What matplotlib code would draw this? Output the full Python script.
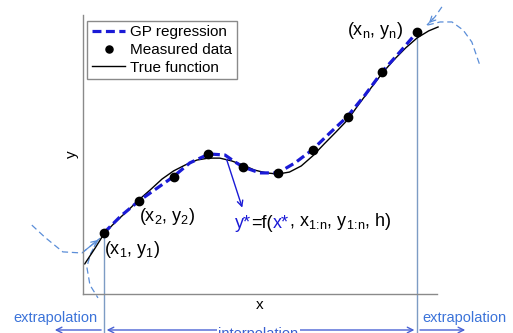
import numpy as np
import matplotlib.pyplot as plt

plt.rcParams['font.family'] = 'Liberation Sans'
plt.rcParams['mathtext.fontset'] = 'custom'
plt.rcParams['mathtext.rm'] = 'Liberation Sans'
plt.rcParams['mathtext.it'] = 'Liberation Sans'

# measured data (x_1 .. x_n)
x_meas = [1, 2, 3, 4, 5, 6, 7, 8, 9, 10]
y_meas = [2.19, 3.33, 4.19, 5.02, 4.55, 4.34, 5.16, 6.34, 7.96, 9.39]

# true function
x_true = [0.45, 0.75, 1.0, 1.33, 1.67, 2.0, 2.33, 2.67, 3.0, 3.33, 3.67, 4.0,
          4.33, 4.67, 5.0, 5.33, 5.67, 6.0, 6.33, 6.67, 7.0, 7.33, 7.67, 8.0,
          8.33, 8.67, 9.0, 9.33, 9.67, 10.0, 10.33, 10.6]
y_true = [1.08, 1.65, 2.15, 2.58, 2.97, 3.37, 3.73, 4.12, 4.41, 4.62, 4.80, 4.87,
          4.87, 4.77, 4.62, 4.44, 4.34, 4.30, 4.37, 4.59, 4.95, 5.38, 5.81, 6.24,
          6.81, 7.38, 7.92, 8.39, 8.82, 9.18, 9.43, 9.57]

# GP regression mean
x_gp = [1.0, 1.49, 2.0, 2.49, 2.98, 3.47, 4.02, 4.48, 4.77, 5.0, 5.48, 6.0,
        6.49, 6.98, 7.49, 7.98, 8.5, 8.99, 9.5, 10.0]
y_gp = [2.19, 2.80, 3.33, 3.76, 4.19, 4.70, 5.02, 4.98, 4.73, 4.55, 4.34, 4.34,
        4.70, 5.16, 5.77, 6.34, 7.13, 7.96, 8.67, 9.39]

# extrapolation guesses outside the data range
x_ext_a = [-1.07, -0.70, -0.18, 0.37, 0.89]
y_ext_a = [2.47, 2.04, 1.51, 1.47, 2.0]
x_ext_b = [0.83, 0.62, 0.51, 0.60, 0.83]
y_ext_b = [1.94, 1.45, 0.97, 0.32, -0.14]
x_ext_c = [10.71, 10.51, 10.28]
y_ext_c = [10.29, 9.93, 9.64]
x_ext_d = [10.3, 10.66, 11.0, 11.32, 11.57, 11.8]
y_ext_d = [9.64, 9.75, 9.75, 9.46, 9.03, 8.2]

GP_BLUE = '#1a1ad6'
LIGHT = '#5b8ed8'
GUIDE = '#7d9cc4'
ARROW = '#4a62d4'

fig = plt.figure(figsize=(5.13, 3.33), dpi=100)
ax = fig.add_axes([0.1618, 0.1171, 0.6901, 0.8379])
ax.set_xlim(0.4, 10.57)
ax.set_ylim(0, 10)
ax.set_xticks([])
ax.set_yticks([])
for s in ['top', 'right']:
    ax.spines[s].set_visible(False)
for s in ['left', 'bottom']:
    ax.spines[s].set_color('#8a8a8a')
    ax.spines[s].set_linewidth(1.0)
ax.set_xlabel('x', fontsize=11, labelpad=3)
ax.set_ylabel('y', fontsize=11, labelpad=3)

# guide lines at first / last sample
ymin_fig = -1.40
ax.plot([x_meas[0], x_meas[0]], [y_meas[0], ymin_fig], color=GUIDE, lw=1, clip_on=False)
ax.plot([x_meas[-1], x_meas[-1]], [y_meas[-1], ymin_fig], color=GUIDE, lw=1, clip_on=False)

# extrapolation curves
for xs, ys in [(x_ext_a, y_ext_a), (x_ext_b, y_ext_b), (x_ext_c, y_ext_c), (x_ext_d, y_ext_d)]:
    ax.plot(xs, ys, color=LIGHT, lw=0.9, ls=(0, (5, 3)), clip_on=False)
ax.annotate('', xy=(x_ext_a[-1], y_ext_a[-1]), xytext=(x_ext_a[-2], y_ext_a[-2]),
            arrowprops=dict(arrowstyle='->', color=LIGHT, lw=0.9), annotation_clip=False)
ax.annotate('', xy=(x_ext_c[-1], y_ext_c[-1]), xytext=(x_ext_c[-2], y_ext_c[-2]),
            arrowprops=dict(arrowstyle='->', color=LIGHT, lw=0.9), annotation_clip=False)

ax.plot(x_true, y_true, color='black', lw=1.0, clip_on=False, label='True function')
ax.plot(x_gp, y_gp, color=GP_BLUE, lw=2.3, dashes=(2.8, 1.4), label='GP regression')
ax.plot(x_meas, y_meas, 'o', color='black', ms=6, label='Measured data', zorder=5)

# y* arrow
ax.annotate('', xy=(5.0, 3.0), xytext=(4.5, 4.92),
            arrowprops=dict(arrowstyle='->', color=GP_BLUE, lw=1.0))

# point labels
ax.text(x_meas[0], 1.58, '(x$_1$, y$_1$)', fontsize=13, ha='left', va='center')
ax.text(x_meas[1], 2.76, '(x$_2$, y$_2$)', fontsize=13, ha='left', va='center')
ax.text(9.59, 9.46, '(x$_n$, y$_n$)', fontsize=13, ha='right', va='center')

t1 = ax.text(4.76, 2.51, 'y*', fontsize=13, color=GP_BLUE, ha='left', va='center')
t2 = ax.annotate('=f(', xy=(1, 0), xycoords=t1, fontsize=13, va='bottom')
t3 = ax.annotate('x*', xy=(1, 0), xycoords=t2, fontsize=13, color=GP_BLUE, va='bottom')
ax.annotate(r', x$_{1\!:\!n}$, y$_{1\!:\!n}$, h)', xy=(1, 0), xycoords=t3, fontsize=13,
            va='bottom')

# interpolation / extrapolation arrows
ya = -1.29
ax.annotate('', xy=(x_meas[0], ya), xytext=(x_meas[-1], ya),
            arrowprops=dict(arrowstyle='<->', color=ARROW, lw=1.0), annotation_clip=False)
ax.annotate('', xy=(-0.49, ya), xytext=(x_meas[0], ya),
            arrowprops=dict(arrowstyle='->', color=ARROW, lw=1.0), annotation_clip=False)
ax.annotate('', xy=(11.46, ya), xytext=(x_meas[-1], ya),
            arrowprops=dict(arrowstyle='->', color=ARROW, lw=1.0), annotation_clip=False)
ax.text(5.43, -1.42, 'interpolation', fontsize=10.5, color='#3a5fd0', ha='center', va='center',
        bbox=dict(facecolor='white', edgecolor='none', pad=1), clip_on=False)
ax.text(-0.38, -0.86, 'extrapolation', fontsize=10.5, color='#3b73d9', ha='center', va='center',
        clip_on=False)
ax.text(11.37, -0.86, 'extrapolation', fontsize=10.5, color='#3b73d9', ha='center', va='center',
        clip_on=False)

h, l = ax.get_legend_handles_labels()
order = [1, 2, 0]
leg = ax.legend([h[i] for i in order], [l[i] for i in order], loc='upper left',
                bbox_to_anchor=(0.012, 0.98), fontsize=11, frameon=True, fancybox=False,
                edgecolor='#8a8a8a', framealpha=1, handlelength=2.2, labelspacing=0.25,
                borderpad=0.3, handletextpad=0.3, borderaxespad=0, markerscale=0.85)
leg.get_frame().set_linewidth(1.0)

fig.savefig('out.png', dpi=100)
